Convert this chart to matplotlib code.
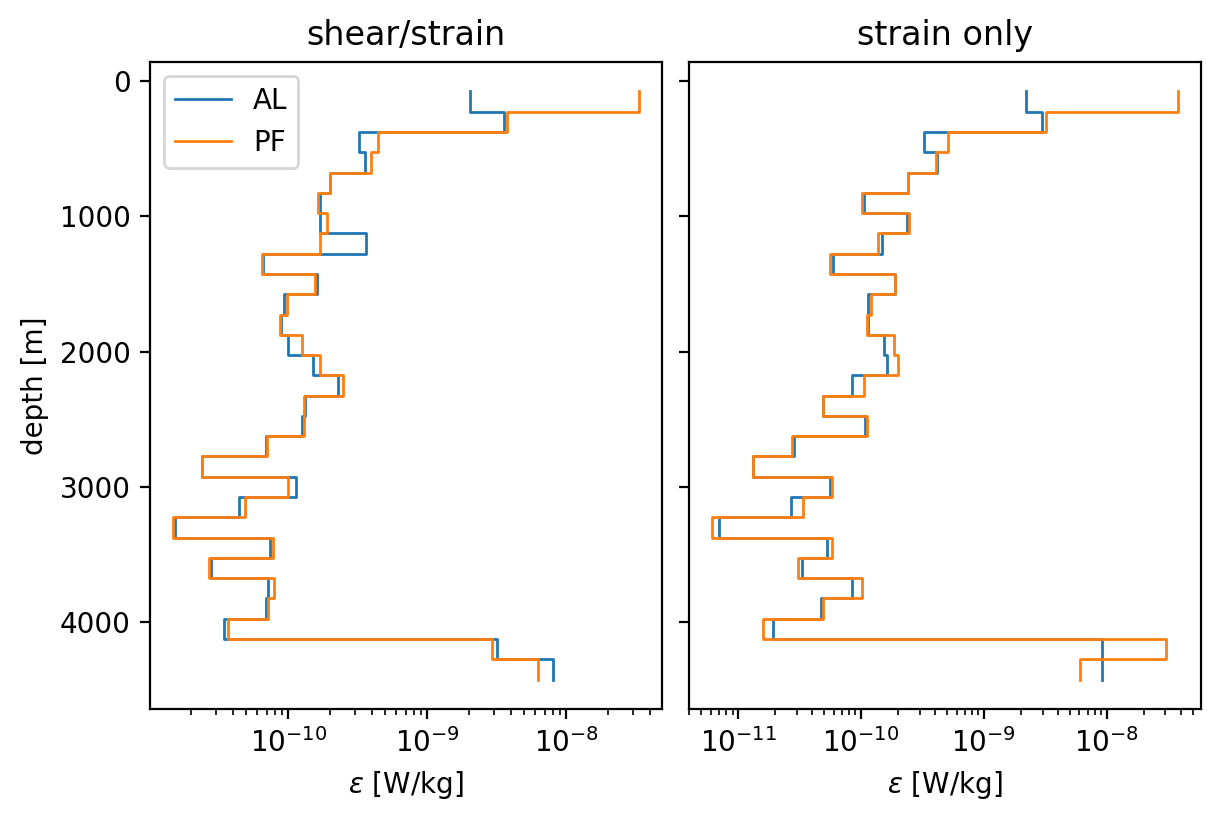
import numpy as np
import matplotlib
matplotlib.use("Agg")
import matplotlib.pyplot as plt

# depth bin edges [m]
edges = np.arange(75, 4426, 150)

# shear/strain
al_ss = [2.04e-9, 3.59e-9, 3.25e-10, 3.59e-10, 2.01e-10, 1.69e-10, 1.69e-10, 3.63e-10,
         6.62e-11, 1.60e-10, 9.27e-11, 8.91e-11, 1.00e-10, 1.51e-10, 2.28e-10, 1.32e-10,
         1.26e-10, 6.95e-11, 2.41e-11, 1.14e-10, 4.41e-11, 1.52e-11, 7.35e-11, 2.79e-11,
         7.11e-11, 6.89e-11, 3.44e-11, 3.16e-9, 7.97e-9]
pf_ss = [3.32e-8, 3.73e-9, 4.40e-10, 3.94e-10, 2.01e-10, 1.64e-10, 1.91e-10, 1.69e-10,
         6.44e-11, 1.55e-10, 9.80e-11, 8.77e-11, 1.26e-10, 1.70e-10, 2.48e-10, 1.30e-10,
         1.30e-10, 7.07e-11, 2.41e-11, 1.00e-10, 4.89e-11, 1.49e-11, 7.76e-11, 2.70e-11,
         7.94e-11, 7.18e-11, 3.71e-11, 2.91e-9, 6.22e-9]

# strain only
al_s = [2.21e-9, 2.99e-9, 3.25e-10, 4.19e-10, 2.42e-10, 1.06e-10, 2.36e-10, 1.48e-10,
        5.95e-11, 1.89e-10, 1.13e-10, 1.13e-10, 1.53e-10, 1.64e-10, 8.45e-11, 4.91e-11,
        1.08e-10, 2.86e-11, 1.33e-11, 5.63e-11, 2.70e-11, 6.97e-12, 5.30e-11, 3.29e-11,
        8.45e-11, 4.70e-11, 1.91e-11, 9.18e-9, 9.10e-9]
pf_s = [3.78e-8, 3.18e-9, 5.12e-10, 4.09e-10, 2.42e-10, 1.02e-10, 2.45e-10, 1.38e-10,
        5.63e-11, 1.89e-10, 1.21e-10, 1.12e-10, 1.84e-10, 2.01e-10, 1.06e-10, 4.91e-11,
        1.11e-10, 2.75e-11, 1.33e-11, 5.77e-11, 3.35e-11, 6.16e-12, 5.77e-11, 3.08e-11,
        1.02e-10, 4.88e-11, 1.60e-11, 3.04e-8, 6.01e-9]


def prof(ax, vals, label):
    # repeat last value so the last bin gets its own vertical segment
    x = np.append(vals, vals[-1])
    ax.plot(x, edges, drawstyle="steps-pre", lw=1, label=label)


fig, axs = plt.subplots(1, 2, sharey=True, figsize=(6.115, 4.115), dpi=200)
fig.subplots_adjust(left=0.1227, right=0.982, top=0.9247, bottom=0.1385, wspace=0.0527)

prof(axs[0], al_ss, "AL")
prof(axs[0], pf_ss, "PF")
prof(axs[1], al_s, "AL")
prof(axs[1], pf_s, "PF")

for ax in axs:
    ax.set_xscale("log")
    ax.set_xlabel(r"$\epsilon$ [W/kg]")
axs[0].invert_yaxis()
axs[0].set_ylabel("depth [m]")
axs[0].set_title("shear/strain")
axs[1].set_title("strain only")
axs[0].legend(loc="upper left")

fig.savefig("out.png", dpi=200)
